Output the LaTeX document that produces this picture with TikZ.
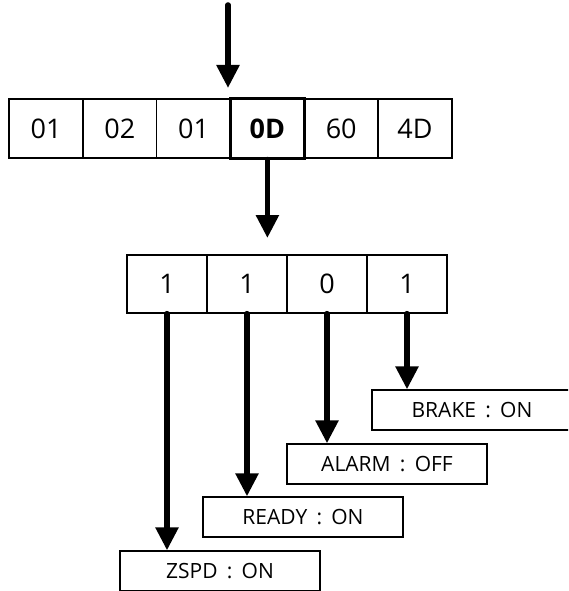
\documentclass[tikz,border=0pt]{standalone}
\usepackage{fontspec}
\setmainfont{Open Sans}[WordSpace=1.7]
\usetikzlibrary{arrows.meta,positioning}
\tikzset{
  >={Triangle[length=23pt,width=22pt]},
  byte/.style   ={draw,line width=1.3pt,minimum width=73.8pt,minimum height=59pt,
                  inner sep=0pt,font=\fontsize{27}{30}\selectfont},
  hot/.style    ={byte,line width=3pt,font=\fontsize{27}{30}\selectfont\bfseries},
  bit/.style    ={draw,line width=1.3pt,minimum width=80pt,minimum height=58pt,
                  inner sep=0pt,font=\fontsize{27}{30}\selectfont},
  flag/.style   ={draw,line width=1.3pt,minimum width=200pt,minimum height=40pt,
                  inner sep=0pt,font=\fontsize{21}{24}\selectfont},
  fat/.style    ={->,line width=5.5pt,line cap=round},
}
\begin{document}
\begin{tikzpicture}[x=1pt,y=-1pt]
\useasboundingbox (0,0) rectangle (568,591);
\clip (0,0) rectangle (568,591);
%---------------- frame bytes
\node[byte] (b1) at (46,128.5) {01};
\node[byte] (b2) at (119.8,128.5) {02};
\node[byte] (b3) at (193.6,128.5) {01};
\node[byte] (b5) at (341.2,128.5) {60};
\node[byte] (b6) at (415,128.5) {4D};
\node[hot]  (b4) at (267.4,128.5) {0D};
\coordinate (in) at (228,5);
\coordinate (intip) at (228,88);
\draw[fat] (in) -- (intip);
%---------------- bits of 0D
\node[bit] (d1) at (167,284) {1};
\node[bit] (d2) at (247,284) {1};
\node[bit] (d3) at (327,284) {0};
\node[bit] (d4) at (407,284) {1};
\coordinate (outtip) at (267.4,238);
\draw[fat] (b4.south) -- (outtip);
%---------------- flags
\node[flag] (f4) at (472,410) {BRAKE : ON};
\node[flag] (f3) at (387,464) {ALARM : OFF};
\node[flag] (f2) at (303,517) {READY : ON};
\node[flag] (f1) at (220,571) {ZSPD : ON};
\draw[fat] (d1.south) -- (d1.south |- f1.north);
\draw[fat] (d2.south) -- (d2.south |- f2.north);
\draw[fat] (d3.south) -- (d3.south |- f3.north);
\draw[fat] (d4.south) -- (d4.south |- f4.north);
\end{tikzpicture}
\end{document}
